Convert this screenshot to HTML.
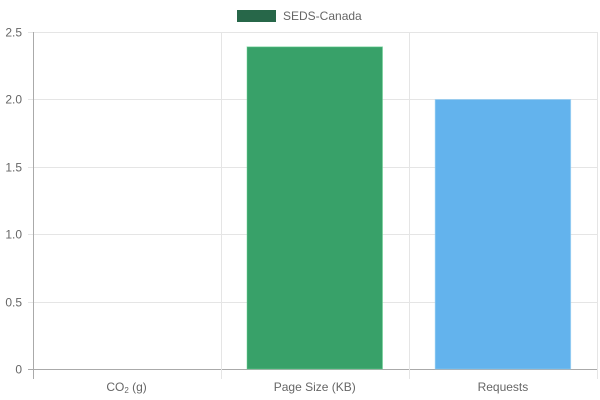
<!DOCTYPE html>
<html><head><meta charset="utf-8"><style>
html,body{margin:0;padding:0;background:#fff;}
svg{display:block;font-family:"Liberation Sans",Arial,sans-serif;}
</style></head><body>
<svg id="chart" width="600" height="400">
<g id="grid"></g>
<g id="bars"></g>
<g id="axes"></g>
<g>
<rect x="237" y="10" width="39" height="12" fill="#276749"/>
<text x="283" y="20" font-size="12" fill="#666">SEDS-Canada</text>
</g>
</svg>
<script>
const categories = ["CO2 (g)", "Page Size (KB)", "Requests"];
const values = [0, 2.39, 2.0];
const barColors = ["#38a169", "#38a169", "#63b3ed"];
const yTicks = [0, 0.5, 1.0, 1.5, 2.0, 2.5];
const yTickLabels = ["0", "0.5", "1.0", "1.5", "2.0", "2.5"];

const NS = "http://www.w3.org/2000/svg";
const L = 32.5, R = 597, T = 32, B = 369.5, yMax = 2.5;
const bw = (R - L) / categories.length;
const y = v => B - v / yMax * (B - T);
const x = i => L + i * bw;
function mk(tag, attrs, parent) {
  const e = document.createElementNS(NS, tag);
  for (const k in attrs) e.setAttribute(k, attrs[k]);
  parent.appendChild(e); return e;
}
const grid = document.getElementById('grid'), bars = document.getElementById('bars'), axes = document.getElementById('axes');
yTicks.forEach((t, i) => {
  const yy = Math.floor(y(t)) + 0.5;
  const g = mk('line', {x1: 28, x2: R, y1: yy, y2: yy, stroke: i === 0 ? '#aaa' : '#e5e5e5', 'stroke-width': 1}, grid);
  
  
  const tx = mk('text', {x: 22, y: yy + 4, 'font-size': 12, fill: '#666', 'text-anchor': 'end'}, axes);
  tx.textContent = yTickLabels[i];
  
  
});
for (let i = 0; i <= categories.length; i++) {
  const xx = Math.round(x(i)) + 0.5;
  const g = mk('line', {x1: xx, x2: xx, y1: T, y2: 379, stroke: i === 0 ? '#aaa' : '#e5e5e5', 'stroke-width': 1}, grid);
  
  
}
categories.forEach((c, i) => {
  const w = bw * 0.72, x0 = x(i) + (bw - w) / 2;
  const top = y(values[i]);
  const r = mk('rect', {x: x0, y: top, width: w, height: Math.max(0, B - 0.5 - top), fill: barColors[i], stroke: i === 2 ? '#90cdf4' : '#68d391', 'stroke-width': 1, 'stroke-opacity': 0.5}, bars);
  
  
  const tx = mk('text', {x: x(i) + bw / 2, y: 391, 'font-size': 12, fill: '#666', 'text-anchor': 'middle'}, axes);
  if (c.startsWith('CO2')) {
    tx.textContent = 'CO';
    const s = mk('tspan', {'font-size': 8, dy: 2}, tx); s.textContent = '2';
    const s2 = mk('tspan', {dy: -2}, tx); s2.textContent = c.slice(3);
  } else tx.textContent = c;
  
  
});
</script>
</body></html>
